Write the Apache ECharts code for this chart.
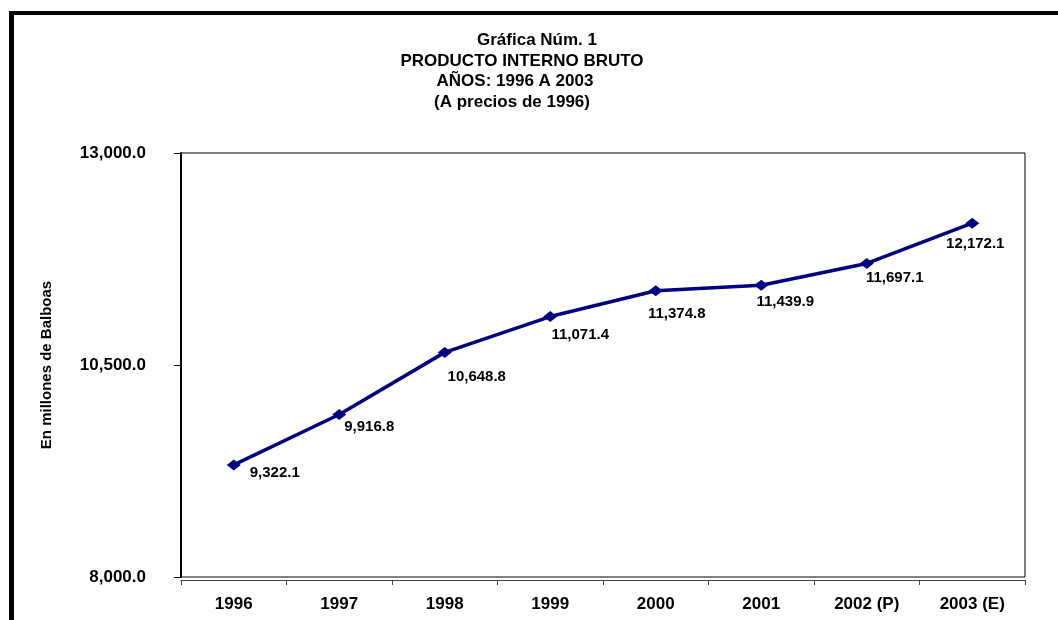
<!DOCTYPE html>
<html>
<head>
<meta charset="utf-8">
<script src="https://cdn.jsdelivr.net/npm/echarts@6/dist/echarts.min.js"></script>
<style>html,body{margin:0;padding:0;background:#fff;}#c{width:1058px;height:620px;}</style>
</head>
<body>
<div id="c"></div>
<script>
const categories = ['1996', '1997', '1998', '1999', '2000', '2001', '2002 (P)', '2003 (E)'];
const pibValues = [9322.1, 9916.8, 10648.8, 11071.4, 11374.8, 11439.9, 11697.1, 12172.1];
const yTicks = [8000, 10500, 13000];
const titleLines = ['Gráfica Núm. 1', 'PRODUCTO INTERNO BRUTO', 'AÑOS: 1996 A 2003', '(A precios de 1996)'];
const yAxisName = 'En millones de Balboas';

// label nudges (style only), relative to each marker
const labelNudge = [[41, 8], [30, 12], [32, 24], [30, 18], [21, 23], [24, 17], [28, 14], [3, 21]];
const titleCenters = [537, 522, 515, 512];
const titleYs = [40, 61, 81, 102];

const fmt = v => v.toLocaleString('en-US', {minimumFractionDigits: 1, maximumFractionDigits: 1});
const FONT = '"Liberation Sans", Arial, sans-serif';

const chart = echarts.init(document.getElementById('c'), null, {renderer: 'canvas'});
const graphics = [
  {type: 'rect', shape: {x: 9, y: 11, width: 1049, height: 4}, style: {fill: '#000'}, silent: true},
  {type: 'rect', shape: {x: 9, y: 11, width: 5, height: 609}, style: {fill: '#000'}, silent: true}
];
titleLines.forEach((t, i) => graphics.push({
  type: 'text', x: titleCenters[i], y: titleYs[i], silent: true,
  style: {text: t, fill: '#000', font: 'bold 17px ' + FONT, textAlign: 'center', textVerticalAlign: 'middle'}
}));

chart.setOption({
  animation: false,
  backgroundColor: '#fff',
  graphic: graphics,
  grid: {left: 181, right: 33, top: 153, bottom: 43, show: true, borderColor: '#000', borderWidth: 1, backgroundColor: 'transparent'},
  xAxis: {
    type: 'category', data: categories, boundaryGap: true, offset: 3,
    axisLine: {show: true, lineStyle: {color: '#444', width: 1}},
    axisTick: {show: true, length: 5, inside: false, lineStyle: {color: '#444'}},
    axisLabel: {color: '#000', fontFamily: FONT, fontWeight: 'bold', fontSize: 17, margin: 16},
    splitLine: {show: false}
  },
  yAxis: {
    type: 'value', min: yTicks[0], max: yTicks[yTicks.length - 1], interval: yTicks[1] - yTicks[0],
    name: yAxisName, nameLocation: 'middle', nameGap: 127, nameRotate: 90,
    nameTextStyle: {color: '#000', fontFamily: FONT, fontWeight: 'bold', fontSize: 15},
    axisLine: {show: true, lineStyle: {color: '#000', width: 2}},
    axisTick: {show: true, length: 7, lineStyle: {color: '#000'}},
    axisLabel: {color: '#000', fontFamily: FONT, fontWeight: 'bold', fontSize: 17, margin: 35, formatter: v => fmt(v)},
    splitLine: {show: false}
  },
  series: [{
    type: 'line',
    data: pibValues.map((v, i) => ({
      value: v,
      label: {offset: labelNudge[i]}
    })),
    symbol: 'diamond', symbolSize: [14, 11],
    itemStyle: {color: '#000080'},
    lineStyle: {color: '#000080', width: 3.5},
    label: {
      show: true, position: 'inside', color: '#000',
      fontFamily: FONT, fontWeight: 'bold', fontSize: 15,
      formatter: p => fmt(p.value)
    }
  }]
});
</script>
</body>
</html>
